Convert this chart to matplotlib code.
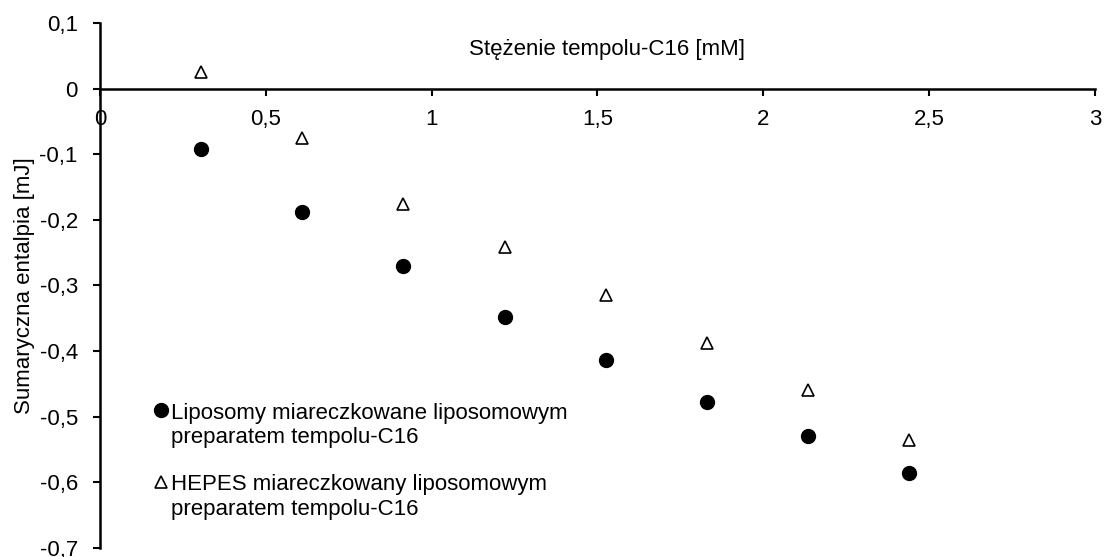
import matplotlib.pyplot as plt
from matplotlib.ticker import FuncFormatter
from matplotlib.legend_handler import HandlerLine2D

plt.rcParams['font.family'] = ['Liberation Sans', 'DejaVu Sans']

stezenie = [0.305, 0.61, 0.915, 1.22, 1.525, 1.83, 2.135, 2.44]
liposomy = [-0.092, -0.188, -0.270, -0.348, -0.414, -0.477, -0.529, -0.585]
hepes = [0.026, -0.076, -0.176, -0.242, -0.314, -0.388, -0.459, -0.536]

x_ticks = [0, 0.5, 1, 1.5, 2, 2.5, 3]
y_ticks = [0.1, 0, -0.1, -0.2, -0.3, -0.4, -0.5, -0.6, -0.7]


def comma(v, pos):
    s = ('%g' % round(v, 2))
    return s.replace('.', ',')


class TopLineHandler(HandlerLine2D):
    # put the legend marker next to the first line of a two-line label
    def create_artists(self, legend, orig_handle, xdescent, ydescent,
                       width, height, fontsize, trans):
        return super().create_artists(legend, orig_handle, xdescent, ydescent - 22,
                                      width, height, fontsize, trans)


fig = plt.figure(figsize=(11.04, 5.57), dpi=100)
ax = fig.add_axes([0.0906, 0.0162, 0.9012, 0.9425])

ax.plot(stezenie, liposomy, 'o', color='black', markersize=10, linestyle='none',
        label='Liposomy miareczkowane liposomowym\npreparatem tempolu-C16')
ax.plot(stezenie, hepes, '^', markerfacecolor='white', markeredgecolor='black',
        markeredgewidth=1.2, markersize=9, linestyle='none',
        label='HEPES miareczkowany liposomowym\npreparatem tempolu-C16')

ax.set_xlim(0, 3)
ax.set_ylim(-0.7, 0.1)
ax.set_xticks(x_ticks)
ax.set_yticks(y_ticks)
ax.xaxis.set_major_formatter(FuncFormatter(comma))
ax.yaxis.set_major_formatter(FuncFormatter(comma))

ax.spines['top'].set_visible(False)
ax.spines['right'].set_visible(False)
ax.spines['bottom'].set_position(('data', 0))
ax.spines['bottom'].set_linewidth(1.8)
ax.spines['left'].set_linewidth(1.8)
ax.tick_params(axis='x', direction='out', length=5, width=1.5, pad=10, labelsize=16)
ax.tick_params(axis='y', direction='out', length=5, width=1.5, pad=11, labelsize=16)

ax.text(1.53, 0.059, 'Stężenie tempolu-C16 [mM]', fontsize=16, ha='center', va='center')
ax.set_ylabel('Sumaryczna entalpia [mJ]', fontsize=16, labelpad=3)

hmap = {ln: TopLineHandler() for ln in ax.get_lines()}
leg = ax.legend(loc='upper left', bbox_to_anchor=(0.046, 0.294), frameon=False, fontsize=16,
                handlelength=0.6, handletextpad=0.15, labelspacing=1.2, borderaxespad=0,
                handler_map=hmap)

fig.savefig('out.png', dpi=100)
